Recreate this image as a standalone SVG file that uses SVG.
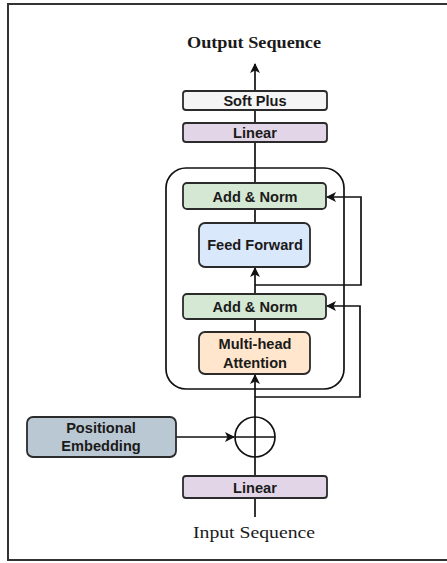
<svg xmlns="http://www.w3.org/2000/svg" width="447" height="563" viewBox="0 0 447 563">
  <style>
    .box { stroke: #2b2b2b; stroke-width: 1.8; }
    .lbl { font-family: "Liberation Sans", Arial, sans-serif; font-weight: bold; font-size: 14.6px; fill: #1a1a1a; text-anchor: middle; }
    .cap { font-family: "Liberation Serif", "Times New Roman", serif; font-size: 16px; fill: #1a1a1a; text-anchor: middle; }
    .wire { fill: none; stroke: #111; stroke-width: 1.7; }
  </style>
  <defs>
    <marker id="arrL" viewBox="0 0 10 10" refX="9" refY="5" markerWidth="10" markerHeight="10" markerUnits="userSpaceOnUse" orient="auto">
      <path d="M0,0 L10,5 L0,10 L2.5,5 Z" fill="#111"/>
    </marker>
  </defs>

  <rect width="447" height="563" fill="#ffffff"/>
  <!-- outer frame -->
  <rect x="8" y="4" width="450" height="556" fill="none" stroke="#333" stroke-width="2"/>

  <!-- encoder block container -->
  <rect id="encoder" x="166" y="168" width="178" height="221" rx="20" ry="20" fill="none" stroke="#111" stroke-width="1.7"/>

  <g id="connectors">
    <!-- output path -->
    <line class="wire" x1="255" y1="91" x2="255" y2="64" marker-end="url(#arrL)"/>
    <line class="wire" x1="255" y1="123" x2="255" y2="110"/>
    <line class="wire" x1="255" y1="183" x2="255" y2="142"/>
    <line class="wire" x1="255" y1="223" x2="255" y2="209"/>
    <line class="wire" x1="255" y1="294" x2="255" y2="268" marker-end="url(#arrL)"/>
    <line class="wire" x1="255" y1="332" x2="255" y2="319"/>
    <line class="wire" x1="255" y1="417" x2="255" y2="375" marker-end="url(#arrL)"/>
    <line class="wire" x1="255" y1="476" x2="255" y2="457"/>
    <line class="wire" x1="255" y1="517" x2="255" y2="498"/>
    <!-- residual connections -->
    <polyline class="wire" points="255,285 361,285 361,197 327,197" marker-end="url(#arrL)"/>
    <polyline class="wire" points="255,397 360,397 360,306 327,306" marker-end="url(#arrL)"/>
    <!-- positional embedding into sum -->
    <line class="wire" x1="176" y1="437" x2="234" y2="437" marker-end="url(#arrL)"/>
  </g>

  <g id="output-label">
    <text class="cap" x="254" y="48" font-weight="bold" textLength="134" lengthAdjust="spacingAndGlyphs">Output Sequence</text>
  </g>

  <g id="softplus">
    <rect class="box" x="183" y="91" width="144" height="19" rx="3" fill="#f5f5f5"/>
    <text class="lbl" x="255" y="105.5">Soft Plus</text>
  </g>

  <g id="linear-out">
    <rect class="box" x="183" y="123" width="144" height="19" rx="3" fill="#e1d5e7"/>
    <text class="lbl" x="255" y="137.5">Linear</text>
  </g>

  <g id="addnorm-2">
    <rect class="box" x="183" y="183" width="143" height="26" rx="4" fill="#d5e8d4"/>
    <text class="lbl" x="255" y="201.5">Add &amp; Norm</text>
  </g>

  <g id="feedforward">
    <rect class="box" x="199" y="223" width="111" height="44" rx="6" fill="#dae8fc"/>
    <text class="lbl" x="255" y="250">Feed Forward</text>
  </g>

  <g id="addnorm-1">
    <rect class="box" x="183" y="294" width="143" height="25" rx="4" fill="#d5e8d4"/>
    <text class="lbl" x="255" y="312">Add &amp; Norm</text>
  </g>

  <g id="attention">
    <rect class="box" x="199" y="332" width="111" height="42" rx="6" fill="#ffe6cc"/>
    <text class="lbl" x="255" y="349">Multi-head</text>
    <text class="lbl" x="255" y="367.5">Attention</text>
  </g>

  <g id="positional">
    <rect class="box" x="27" y="417" width="149" height="40" rx="6" fill="#bac8d3"/>
    <text class="lbl" x="101" y="433">Positional</text>
    <text class="lbl" x="101" y="451">Embedding</text>
  </g>

  <g id="sum">
    <circle cx="255" cy="437" r="20" fill="#ffffff" stroke="#111" stroke-width="1.7"/>
    <line x1="235" y1="437" x2="275" y2="437" stroke="#111" stroke-width="1.7"/>
    <line x1="255" y1="417" x2="255" y2="457" stroke="#111" stroke-width="1.7"/>
  </g>

  <g id="linear-in">
    <rect class="box" x="183" y="476" width="144" height="22" rx="3" fill="#e1d5e7"/>
    <text class="lbl" x="255" y="492.5">Linear</text>
  </g>

  <g id="input-label">
    <text class="cap" x="254" y="538" textLength="122" lengthAdjust="spacingAndGlyphs">Input Sequence</text>
  </g>
</svg>
